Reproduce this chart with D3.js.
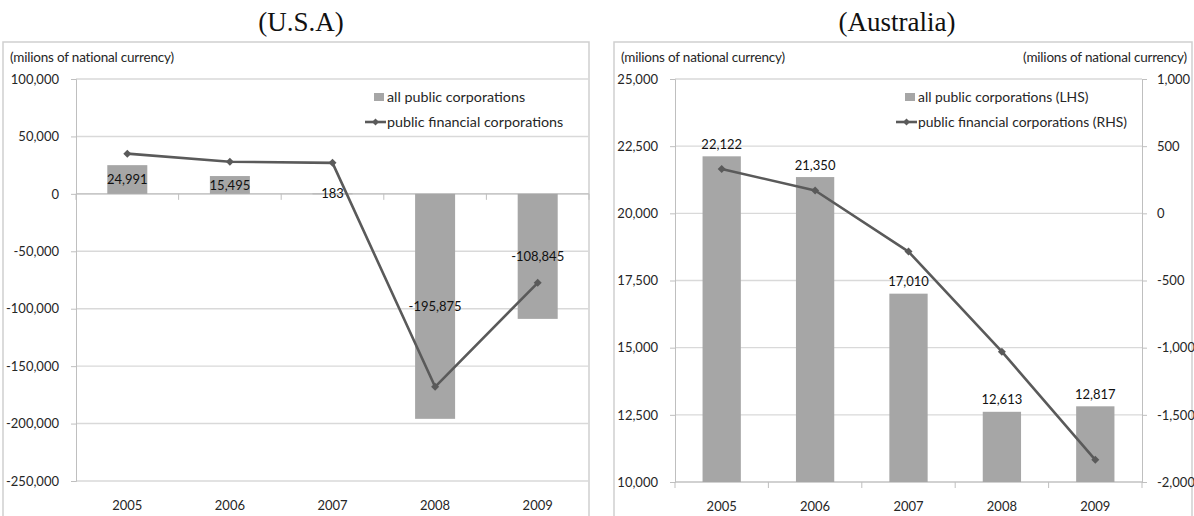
<!DOCTYPE html>
<html>
<head>
<meta charset="utf-8">
<script src="https://cdn.jsdelivr.net/npm/d3@7"></script>
<style>
  html, body { margin: 0; padding: 0; background: #fff; }
  svg { display: block; }
  .tick text { font-family: Lato, "Open Sans", sans-serif; }
</style>
</head>
<body>
<svg id="chart" width="1194" height="516"></svg>
<script>
// Years shown on both panels
const years = ["2005", "2006", "2007", "2008", "2009"];

// U.S.A panel
const usaAllPublic = [24991, 15495, 183, -195875, -108845];
const usaFinancial = [35000, 28000, 27000, -168000, -77500];
const usaTicks = [100000, 50000, 0, -50000, -100000, -150000, -200000, -250000];

// Australia panel
const ausAllPublic = [22122, 21350, 17010, 12613, 12817];
const ausFinancial = [330, 170, -285, -1030, -1835];
const ausLeftTicks = [25000, 22500, 20000, 17500, 15000, 12500, 10000];
const ausRightTicks = [1000, 500, 0, -500, -1000, -1500, -2000];

const unitLabel = "(milions of national currency)";

const locale = d3.formatLocale({ decimal: ".", thousands: ",", grouping: [3], currency: ["", ""], minus: "-" });
const fmt = locale.format(",");

const FONT = "Lato, 'Open Sans', sans-serif";
const BAR = "#a6a6a6";
const LINE = "#5a5a5a";
const GRID = "#d9d9d9";
const AXIS = "#bfbfbf";
const TEXT = "#262626";

const svg = d3.select("#chart");
svg.append("rect").attr("width", 1194).attr("height", 516).attr("fill", "#fff");

function diamond(g, x, y, r) {
  g.append("path")
    .attr("d", `M${x},${y - r}L${x + r},${y}L${x},${y + r}L${x - r},${y}Z`)
    .attr("fill", LINE);
}

function drawPanel(opt) {
  const g = svg.append("g");

  // panel frame
  g.append("rect")
    .attr("x", opt.frame[0]).attr("y", opt.frame[1])
    .attr("width", opt.frame[2] - opt.frame[0]).attr("height", 520 - opt.frame[1])
    .attr("fill", "none").attr("stroke", "#cfcfcf").attr("stroke-width", 1.5);

  // title
  svg.append("text")
    .attr("x", opt.titleX).attr("y", 31)
    .attr("text-anchor", "middle")
    .attr("font-family", "'Liberation Serif', 'Times New Roman', serif")
    .attr("font-size", 27).attr("fill", "#111")
    .text(opt.title);

  const x = d3.scaleBand().domain(years).range([opt.left, opt.right]).paddingInner(0).paddingOuter(0);
  const y = d3.scaleLinear().domain(opt.yDomain).range([opt.bottom, opt.top]);

  // horizontal gridlines
  g.append("g").selectAll("line").data(opt.yTicks).join("line")
    .attr("x1", opt.left).attr("x2", opt.right)
    .attr("y1", d => y(d)).attr("y2", d => y(d))
    .attr("stroke", GRID).attr("stroke-width", 1.4);

  // left value axis
  const yAxis = g.append("g").attr("transform", `translate(${opt.left},0)`)
    .call(d3.axisLeft(y).tickValues(opt.yTicks).tickFormat(fmt).tickSize(5).tickPadding(12));
  yAxis.select(".domain").attr("stroke", AXIS);
  yAxis.selectAll(".tick line").attr("stroke", AXIS);
  yAxis.selectAll(".tick text").attr("font-size", 13).attr("fill", TEXT);

  // category axis: line at the base value, labels at the bottom
  const baseY = y(opt.base);
  g.append("line").attr("x1", opt.left).attr("x2", opt.right)
    .attr("y1", baseY).attr("y2", baseY).attr("stroke", AXIS).attr("stroke-width", 1.2);
  const bounds = d3.range(years.length + 1).map(i => opt.left + i * x.bandwidth());
  g.append("g").selectAll("line").data(bounds).join("line")
    .attr("x1", d => d).attr("x2", d => d)
    .attr("y1", baseY).attr("y2", baseY + 6)
    .attr("stroke", AXIS);
  g.append("g").selectAll("text").data(years).join("text")
    .attr("x", d => x(d) + x.bandwidth() / 2).attr("y", opt.bottom + 29)
    .attr("text-anchor", "middle").attr("font-family", FONT).attr("font-size", 13).attr("fill", TEXT)
    .text(d => d);

  // secondary axis
  let y2 = null;
  if (opt.y2Domain) {
    y2 = d3.scaleLinear().domain(opt.y2Domain).range([opt.bottom, opt.top]);
    const rAxis = g.append("g").attr("transform", `translate(${opt.right},0)`)
      .call(d3.axisRight(y2).tickValues(opt.y2Ticks).tickFormat(fmt).tickSize(5).tickPadding(10));
    rAxis.select(".domain").attr("stroke", AXIS);
    rAxis.selectAll(".tick line").attr("stroke", AXIS);
    rAxis.selectAll(".tick text").attr("font-size", 13).attr("fill", TEXT);
  }

  // bars
  const bw = x.bandwidth() * opt.barFrac;
  const bars = opt.bars.map((v, i) => ({ year: years[i], v }));
  g.append("g").selectAll("rect").data(bars).join("rect")
    .attr("x", d => x(d.year) + (x.bandwidth() - bw) / 2)
    .attr("width", bw)
    .attr("y", d => Math.min(y(d.v), y(opt.base)))
    .attr("height", d => Math.max(Math.abs(y(d.v) - y(opt.base)), 0.6))
    .attr("fill", BAR);

  // line series
  const ly = y2 || y;
  const pts = opt.line.map((v, i) => [x(years[i]) + x.bandwidth() / 2, ly(v)]);
  g.append("path").attr("d", d3.line()(pts))
    .attr("fill", "none").attr("stroke", LINE).attr("stroke-width", 2.6).attr("stroke-linejoin", "round");
  pts.forEach(p => diamond(g, p[0], p[1], 4));

  // bar value labels
  g.append("g").selectAll("text").data(bars).join("text")
    .attr("x", d => x(d.year) + x.bandwidth() / 2)
    .attr("y", d => opt.labelInside ? (y(d.v) + y(opt.base)) / 2 : y(d.v) - 12)
    .attr("dy", "0.35em")
    .attr("text-anchor", "middle").attr("font-family", FONT).attr("font-size", 13).attr("fill", "#111")
    .text(d => fmt(d.v));

  // unit captions
  g.append("text").attr("x", opt.frame[0] + 7).attr("y", 62)
    .attr("font-family", FONT).attr("font-size", 13.5).attr("fill", TEXT).attr("letter-spacing", -0.2)
    .text(unitLabel);
  if (opt.y2Domain) {
    g.append("text").attr("x", opt.frame[2] - 5).attr("y", 62).attr("text-anchor", "end")
      .attr("font-family", FONT).attr("font-size", 13.5).attr("fill", TEXT).attr("letter-spacing", -0.2)
      .text(unitLabel);
  }

  // legend
  const lg = g.append("g");
  lg.append("rect").attr("x", opt.legendX - 13).attr("y", 93).attr("width", 10).attr("height", 8).attr("fill", BAR);
  lg.append("text").attr("x", opt.legendX).attr("y", 97).attr("dy", "0.35em")
    .attr("font-family", FONT).attr("font-size", opt.legendSize).attr("fill", TEXT).text(opt.legend[0]);
  lg.append("line").attr("x1", opt.legendX - 22).attr("x2", opt.legendX - 1).attr("y1", 122).attr("y2", 122)
    .attr("stroke", LINE).attr("stroke-width", 2.6);
  diamond(lg, opt.legendX - 11.5, 122, 3.5);
  lg.append("text").attr("x", opt.legendX).attr("y", 122).attr("dy", "0.35em")
    .attr("font-family", FONT).attr("font-size", opt.legendSize).attr("fill", TEXT).text(opt.legend[1]);
}

drawPanel({
  title: "(U.S.A)", titleX: 301,
  frame: [3, 42, 589],
  left: 76, right: 589, top: 79, bottom: 481,
  yDomain: [-250000, 100000], yTicks: usaTicks, base: 0,
  bars: usaAllPublic, line: usaFinancial, barFrac: 0.39, labelInside: true,
  legendX: 387, legendSize: 14.3,
  legend: ["all public corporations", "public financial corporations"]
});

drawPanel({
  title: "(Australia)", titleX: 897,
  frame: [614, 42, 1192],
  left: 675, right: 1142, top: 79, bottom: 482,
  yDomain: [10000, 25000], yTicks: ausLeftTicks, base: 10000,
  y2Domain: [-2000, 1000], y2Ticks: ausRightTicks,
  bars: ausAllPublic, line: ausFinancial, barFrac: 0.41, labelInside: false,
  legendX: 918, legendSize: 13.9,
  legend: ["all public corporations (LHS)", "public financial corporations (RHS)"]
});
</script>
</body>
</html>
